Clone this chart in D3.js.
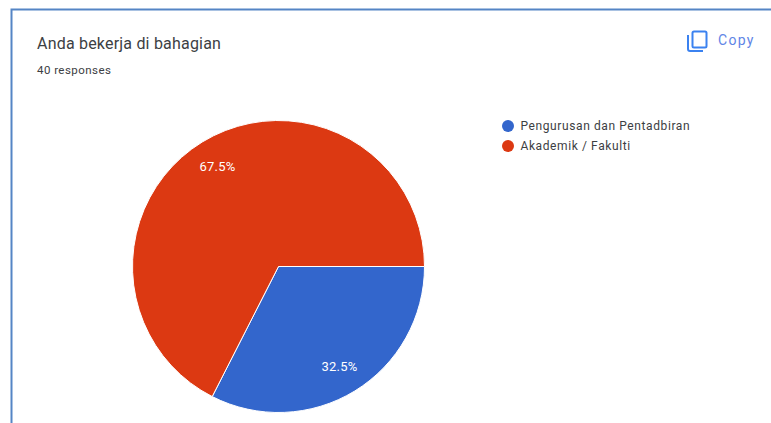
<!DOCTYPE html>
<html>
<head>
<meta charset="utf-8">
<script src="https://d3js.org/d3.v7.min.js"></script>
<style>
  html, body { margin: 0; padding: 0; background: #fff; overflow: hidden; }
  text { font-family: Roboto, Arial, sans-serif; }
</style>
</head>
<body>
<div id="chart"></div>
<script>
// Datos del gráfico
const categories = ["Pengurusan dan Pentadbiran", "Akademik / Fakulti"];
const values = [32.5, 67.5];
const colors = ["#3366cc", "#dc3912"];
const labels = ["32.5%", "67.5%"];

const width = 771;
const height = 423;

const svg = d3.select("#chart").append("svg")
    .attr("width", width)
    .attr("height", height)
    .style("display", "block");

// Borde de la tarjeta
svg.append("path")
    .attr("d", "M11.5,423 V9.5 H771")
    .attr("fill", "none")
    .attr("stroke", "#5585c5")
    .attr("stroke-width", 2);

// Títulos
svg.append("text")
    .attr("x", 37).attr("y", 49)
    .attr("font-size", 16)
    .attr("letter-spacing", 0.2)
    .attr("fill", "#3c4043")
    .text("Anda bekerja di bahagian");

svg.append("text")
    .attr("x", 37).attr("y", 74)
    .attr("font-size", 11.5)
    .attr("letter-spacing", 0.45)
    .attr("fill", "#3c4043")
    .text("40 responses");

// Botón Copy
const copy = svg.append("g").attr("transform", "translate(687,30)");
copy.append("rect")
    .attr("x", 5.5).attr("y", 1.5)
    .attr("width", 14).attr("height", 16)
    .attr("rx", 1.5)
    .attr("fill", "none")
    .attr("stroke", "#3b82f0")
    .attr("stroke-width", 2);
copy.append("path")
    .attr("d", "M1,5 V19 Q1,21 3,21 H16")
    .attr("fill", "none")
    .attr("stroke", "#3b82f0")
    .attr("stroke-width", 2);

svg.append("text")
    .attr("x", 718).attr("y", 45)
    .attr("font-size", 14)
    .attr("letter-spacing", 1.3)
    .attr("fill", "#5f85e6")
    .text("Copy");

// Pastel: empieza en las 3 y gira en sentido horario
const cx = 278.5, cy = 266.5, r = 146;

const pie = d3.pie()
    .sort(null)
    .startAngle(Math.PI / 2)
    .endAngle(Math.PI / 2 + 2 * Math.PI);

const arcs = pie(values);

const arc = d3.arc().innerRadius(0).outerRadius(r);
const labelArc = d3.arc().innerRadius(r * 0.8).outerRadius(r * 0.8);

const g = svg.append("g").attr("transform", `translate(${cx},${cy})`);

g.selectAll("path")
    .data(arcs)
    .enter().append("path")
    .attr("d", arc)
    .attr("fill", (d, i) => colors[i])
    .attr("stroke", "#fff")
    .attr("stroke-width", 1);

g.selectAll("text")
    .data(arcs)
    .enter().append("text")
    .attr("x", d => labelArc.centroid(d)[0])
    .attr("y", d => labelArc.centroid(d)[1])
    .attr("text-anchor", "middle")
    .attr("dy", "0.35em")
    .attr("font-size", 13)
    .attr("letter-spacing", 0.2)
    .attr("fill", "#fff")
    .text((d, i) => labels[i]);

// Leyenda
const legend = svg.selectAll(".legend")
    .data(categories)
    .enter().append("g")
    .attr("class", "legend")
    .attr("transform", (d, i) => `translate(508,${126 + i * 20})`);

legend.append("circle")
    .attr("r", 6)
    .attr("fill", (d, i) => colors[i]);

legend.append("text")
    .attr("x", 12.5)
    .attr("dy", "0.35em")
    .attr("font-size", 12)
    .attr("letter-spacing", 0.6)
    .attr("fill", "#3c4043")
    .text(d => d);
</script>
</body>
</html>
